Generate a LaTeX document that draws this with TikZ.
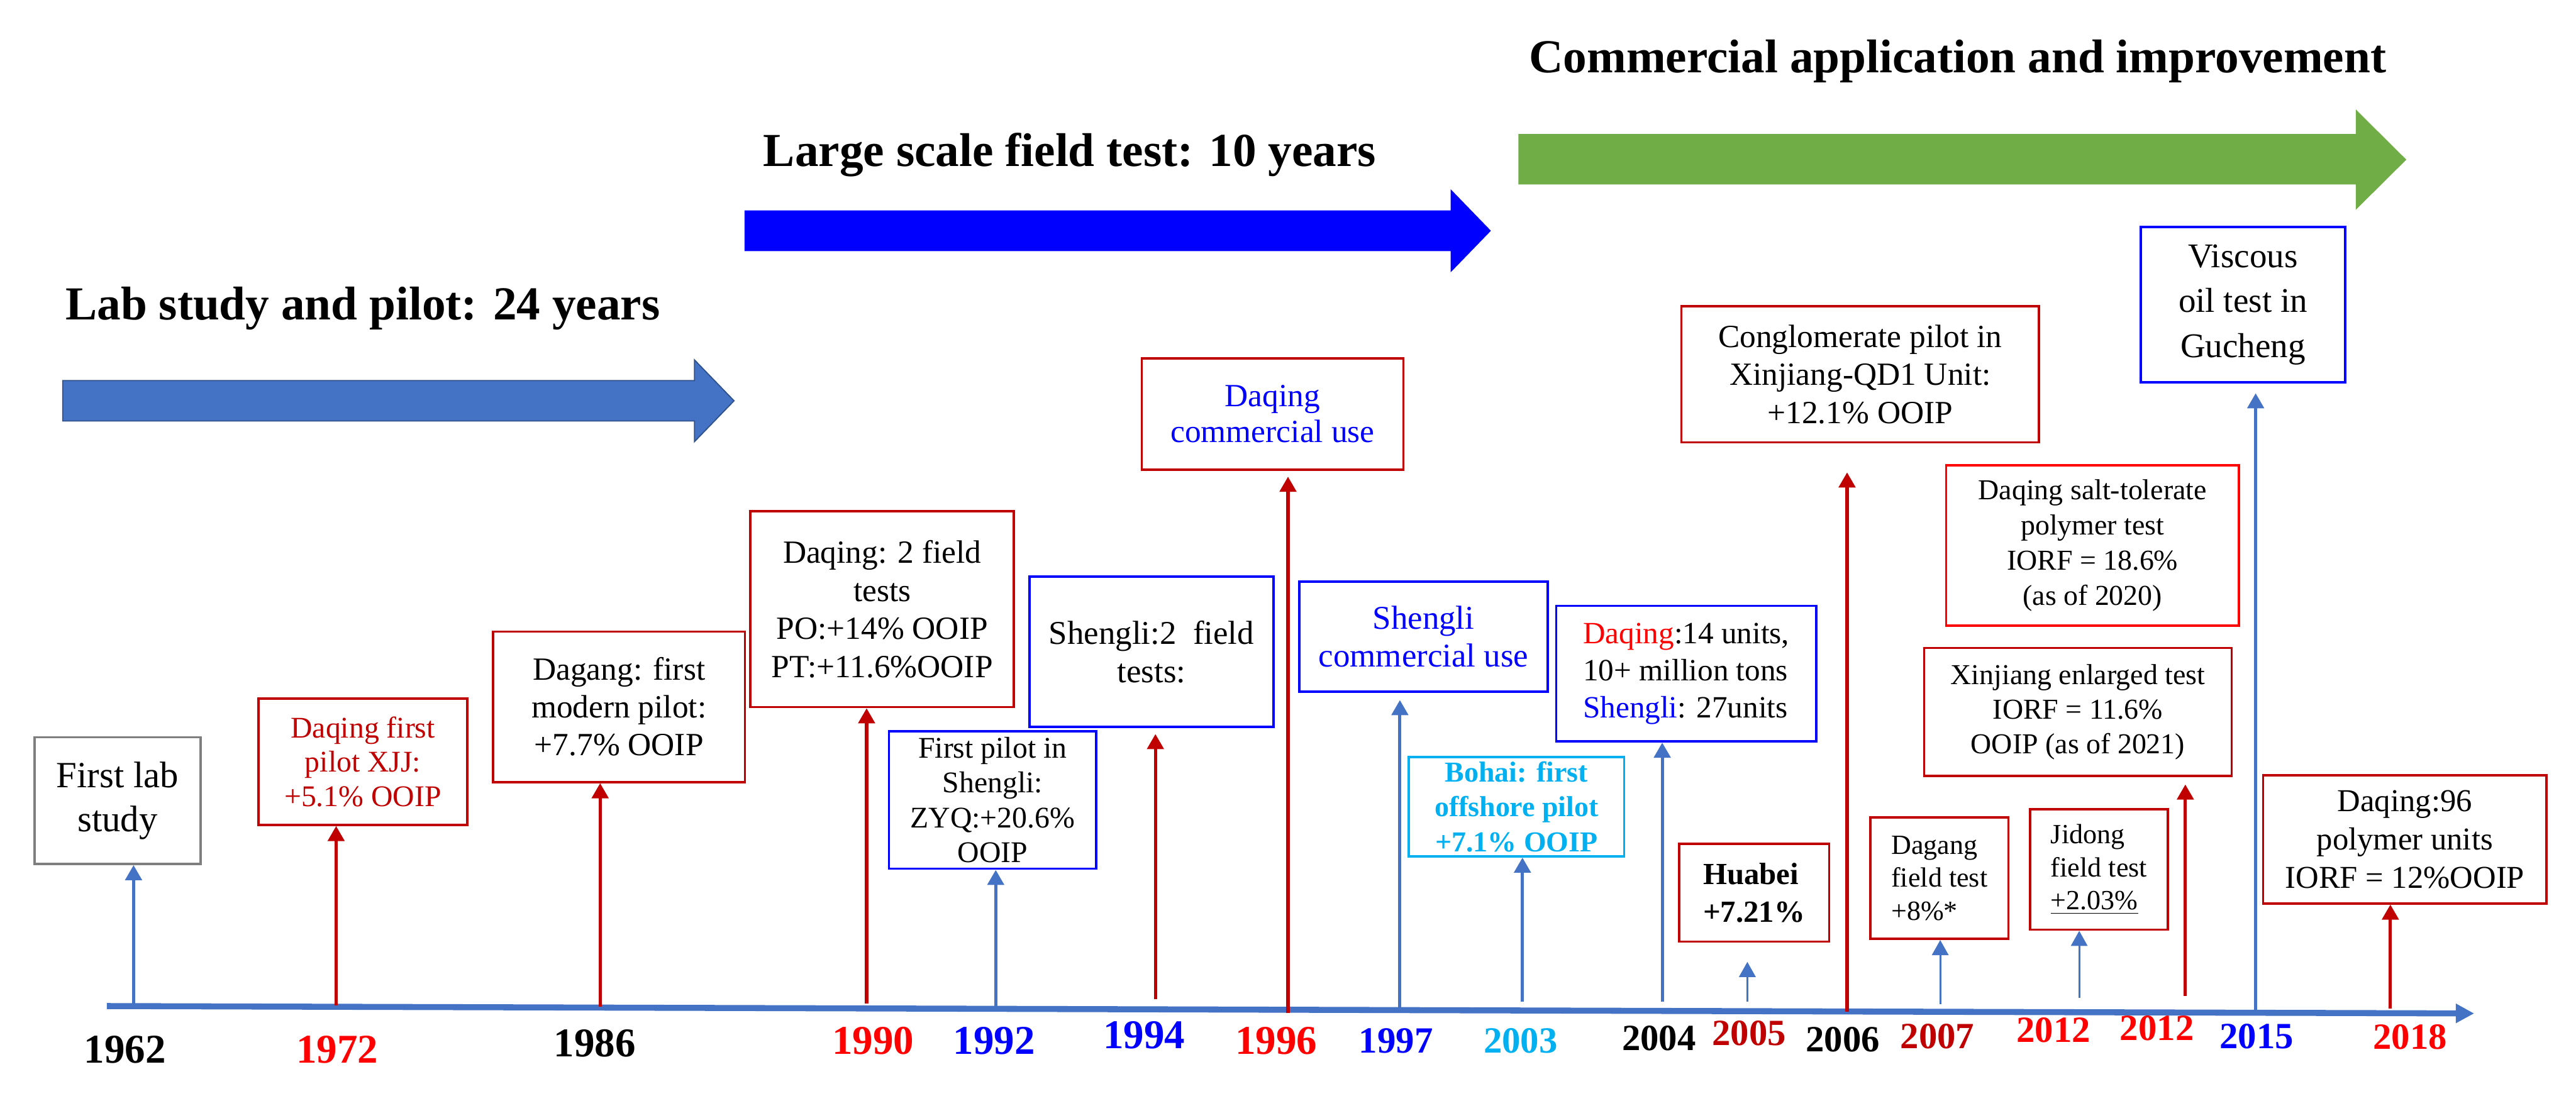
\documentclass[tikz,border=0pt]{standalone}
\usepackage{fontspec}
\setmainfont{Liberation Serif}
\usepackage{xcolor}
\definecolor{cSteel}{HTML}{4472C4}
\definecolor{cSteelDark}{HTML}{2F528F}
\definecolor{cBlue}{HTML}{0000FF}
\definecolor{cGreen}{HTML}{70AD47}
\definecolor{cDarkRed}{HTML}{C00000}
\definecolor{cRed}{HTML}{FF0000}
\definecolor{cCyan}{HTML}{00B0F0}
\definecolor{cGray}{HTML}{7F7F7F}
\usepackage{tikz}
\usetikzlibrary{positioning,arrows.meta,calc}
\newcommand{\fsz}[2]{\fontsize{#1}{#2}\selectfont}
\tikzset{
  node-box/.style={draw,line width=1pt,fill=white,align=center,inner sep=2pt,
    font=\fsz{14pt}{16.5pt}},
  node-red/.style={node-box,draw=cDarkRed},
  node-blue/.style={node-box,draw=cBlue},
  node-year/.style={anchor=base,inner sep=0pt,font=\fsz{17.7pt}{20pt}\bfseries},
  node-year-s/.style={node-year,font=\fsz{16pt}{18pt}\bfseries},
  node-title/.style={anchor=base west,inner sep=0pt,font=\fsz{20.5pt}{24pt}\bfseries},
  arrow/.style={-{Triangle[length=2.3mm,width=2.5mm]},line width=1.4pt},
  arrow-red/.style={arrow,color=cDarkRed},
  arrow-blue/.style={arrow,color=cSteel},
  arrow-thin/.style={arrow-blue,line width=0.8pt},
  axis-line/.style={-{Triangle[length=2.8mm,width=2.8mm]},line width=2.6pt,color=cSteel},
}

\begin{document}
\begin{tikzpicture}[x=0.25mm,y=-0.25mm]
  \useasboundingbox (0,0) rectangle (1568,670);

  % phases
  \filldraw[fill=cSteel,draw=cSteelDark,line width=0.5pt]
    (38.2,231.7) -- (422.7,231.7) -- (422.7,219.1) -- (446.8,244)
    -- (422.7,268.9) -- (422.7,256.3) -- (38.2,256.3) -- cycle;
  \fill[cBlue] (453.2,128.1) -- (883,128.1) -- (883,115.2) -- (907.5,140.5)
    -- (883,165.8) -- (883,152.9) -- (453.2,152.9) -- cycle;
  \fill[cGreen] (924.2,81.6) -- (1434,81.6) -- (1434,66.7) -- (1464.7,97.2)
    -- (1434,127.7) -- (1434,112.3) -- (924.2,112.3) -- cycle;
  \node[node-title] (ttl-lab)   at (39.6,194.5) {Lab study and pilot: 24 years};
  \node[node-title] (ttl-field) at (464.4,101.3) {Large scale field test: 10 years};
  \node[node-title] (ttl-comm)  at (930.5,44.3) {Commercial application and improvement};

  % time axis
  \coordinate (ax-start) at (65,612.5);
  \coordinate (ax-end)   at (1506,617);
  \draw[axis-line] (ax-start) -- (ax-end);

  % events
  \node[node-box,draw=cGray,minimum width=2.53cm,minimum height=1.93cm,
    font=\fsz{16pt}{19pt}] (b1962) at (71.6,487.4) {First lab\\study};
  \node[node-red,minimum width=3.18cm,minimum height=1.925cm,text=cDarkRed,
    font=\fsz{13pt}{14.9pt}] (b1972) at (220.9,463.7)
    {Daqing first\\pilot XJJ:\\+5.1\% OOIP};
  \node[node-red,minimum width=3.83cm,minimum height=2.29cm,
    font=\fsz{14pt}{16.3pt}] (b1986) at (376.8,430.3)
    {Dagang: first\\modern pilot:\\+7.7\% OOIP};
  \node[node-red,minimum width=4.01cm,minimum height=2.98cm] (b1990) at (537,370.9)
    {Daqing: 2 field\\tests\\PO:+14\% OOIP\\PT:+11.6\%OOIP};
  \node[node-blue,minimum width=3.155cm,minimum height=2.095cm,
    font=\fsz{13pt}{15.1pt}] (b1992) at (604.2,487)
    {First pilot in\\Shengli:\\ZYQ:+20.6\%\\OOIP};
  \node[node-blue,minimum width=3.71cm,minimum height=2.29cm,
    font=\fsz{14.4pt}{16.5pt}] (b1994) at (700.9,396.8)
    {Shengli:2\ \ field\\tests:};
  \node[node-red,minimum width=3.98cm,minimum height=1.695cm,text=cBlue,
    font=\fsz{14pt}{15.5pt}] (b1996) at (774.6,252)
    {Daqing\\commercial use};
  \node[node-blue,minimum width=3.78cm,minimum height=1.675cm,text=cBlue,
    font=\fsz{14.4pt}{16.5pt}] (b1997) at (866.5,387.6)
    {Shengli\\commercial use};
  \node[node-box,draw=cCyan,minimum width=3.275cm,minimum height=1.51cm,text=cCyan,
    font=\fsz{12.5pt}{15pt}\bfseries] (b2003) at (923.1,491.2)
    {Bohai: first\\offshore pilot\\+7.1\% OOIP};
  \node[node-blue,minimum width=3.96cm,minimum height=2.065cm,align=left,
    font=\fsz{13.4pt}{16pt}] (b2004) at (1026.4,410.1)
    {{\color{cRed}Daqing}:14 units,\\10+ million tons\\{\color{cBlue}Shengli}: 27units};
  \node[node-red,minimum width=2.285cm,minimum height=1.49cm,align=left,
    font=\fsz{13.3pt}{16.5pt}\bfseries] (b2005) at (1067.7,543.5)
    {Huabei\\+7.21\%};
  \node[node-red,minimum width=5.44cm,minimum height=2.07cm] (b2006) at (1132.3,227.9)
    {Conglomerate pilot in\\Xinjiang-QD1 Unit:\\+12.1\% OOIP};
  \node[node-red,minimum width=2.1cm,minimum height=1.85cm,align=left,
    font=\fsz{12pt}{14.3pt}] (b2007) at (1180.5,534.6)
    {Dagang\\field test\\+8\%*};
  \node[node-red,minimum width=2.1cm,minimum height=1.83cm,align=left,
    font=\fsz{12pt}{14.3pt}] (b2012a) at (1277.6,529.4)
    {Jidong\\field test\\\underline{+2.03\%}};
  \node[node-red,minimum width=4.68cm,minimum height=1.95cm,
    font=\fsz{12.5pt}{15pt}] (b2012b) at (1264.8,433.5)
    {Xinjiang enlarged test\\IORF = 11.6\%\\OOIP (as of 2021)};
  \node[node-box,draw=cRed,minimum width=4.455cm,minimum height=2.445cm,
    font=\fsz{12.5pt}{15.3pt}] (b-salt) at (1273.7,332.1)
    {Daqing salt-tolerate\\polymer test\\IORF = 18.6\%\\(as of 2020)};
  \node[node-blue,minimum width=3.115cm,minimum height=2.36cm,
    font=\fsz{15pt}{19.4pt}] (b2015) at (1365.3,185.5)
    {Viscous\\oil test in\\Gucheng};
  \node[node-red,minimum width=4.31cm,minimum height=1.95cm,
    font=\fsz{13.8pt}{16.6pt}] (b2018) at (1463.8,511)
    {Daqing:96\\polymer units\\IORF = 12\%OOIP};

  % connectors from the axis
  \coordinate (t1962)  at (81.3,611);
  \coordinate (t1972)  at (204.6,612);
  \coordinate (t1986)  at (365.3,612.7);
  \coordinate (t1990)  at (527.5,611);
  \coordinate (t1992)  at (606.1,613);
  \coordinate (t1994)  at (703.3,608.4);
  \coordinate (t1996)  at (784,616.7);
  \coordinate (t1997)  at (852.1,614);
  \coordinate (t2003)  at (926.7,610);
  \coordinate (t2004)  at (1011.8,610);
  \coordinate (t2005)  at (1063.6,610);
  \coordinate (t2006)  at (1124.3,616);
  \coordinate (t2007)  at (1181,611.3);
  \coordinate (t2012a) at (1265.6,607.7);
  \coordinate (t2012b) at (1330.2,606.4);
  \coordinate (t2015)  at (1373,615);
  \coordinate (t2018)  at (1455,614.2);
  \draw[arrow-blue] (t1962) -- (t1962 |- b1962.south);
  \draw[arrow-red]  (t1972) -- (t1972 |- b1972.south);
  \draw[arrow-red]  (t1986) -- (t1986 |- b1986.south);
  \draw[arrow-red]  (t1990) -- (t1990 |- b1990.south);
  \draw[arrow-blue] (t1992) -- (t1992 |- b1992.south);
  \draw[arrow-red,shorten >=0.9mm]  (t1994) -- (t1994 |- b1994.south);
  \draw[arrow-red,shorten >=0.9mm]  (t1996) -- (t1996 |- b1996.south);
  \draw[arrow-blue,shorten >=1.1mm] (t1997) -- (t1997 |- b1997.south);
  \draw[arrow-blue] (t2003) -- (t2003 |- b2003.south);
  \draw[arrow-blue] (t2004) -- (t2004 |- b2004.south);
  \draw[arrow-thin,shorten >=2.9mm] (t2005) -- (t2005 |- b2005.south);
  \draw[arrow-red,shorten >=4.4mm]  (t2006) -- (t2006 |- b2006.south);
  \draw[arrow-thin] (t2007) -- (t2007 |- b2007.south);
  \draw[arrow-thin] (t2012a) -- (t2012a |- b2012a.south);
  \draw[arrow-red,shorten >=1.1mm]  (t2012b) -- (t2012b |- b2012b.south);
  \draw[arrow-blue,shorten >=1.5mm] (t2015) -- (t2015 |- b2015.south);
  \draw[arrow-red]  (t2018) -- (t2018 |- b2018.south);

  % years
  \node[node-year]                 (y1962)  at (76,647)      {1962};
  \node[node-year,text=cRed]       (y1972)  at (205.3,647)   {1972};
  \node[node-year]                 (y1986)  at (362,643.4)   {1986};
  \node[node-year,text=cRed]       (y1990)  at (531.5,641.9) {1990};
  \node[node-year,text=cBlue]      (y1992)  at (605.1,641.9) {1992};
  \node[node-year,text=cBlue]      (y1994)  at (696.4,638.2) {1994};
  \node[node-year,text=cRed]       (y1996)  at (776.8,641.9) {1996};
  \node[node-year-s,text=cBlue]    (y1997)  at (849.7,641)   {1997};
  \node[node-year-s,text=cCyan]    (y2003)  at (925.6,641)   {2003};
  \node[node-year-s]               (y2004)  at (1009.8,639.4) {2004};
  \node[node-year-s,text=cDarkRed] (y2005)  at (1064.7,636.3) {2005};
  \node[node-year-s]               (y2006)  at (1121.7,640.2) {2006};
  \node[node-year-s,text=cDarkRed] (y2007)  at (1179.2,638.2) {2007};
  \node[node-year-s,text=cRed]     (y2012a) at (1250,634.6)  {2012};
  \node[node-year-s,text=cRed]     (y2012b) at (1312.9,633.4) {2012};
  \node[node-year-s,text=cBlue]    (y2015)  at (1373.6,638.2) {2015};
  \node[node-year-s,text=cRed]     (y2018)  at (1467,638.6)  {2018};
\end{tikzpicture}
\end{document}
